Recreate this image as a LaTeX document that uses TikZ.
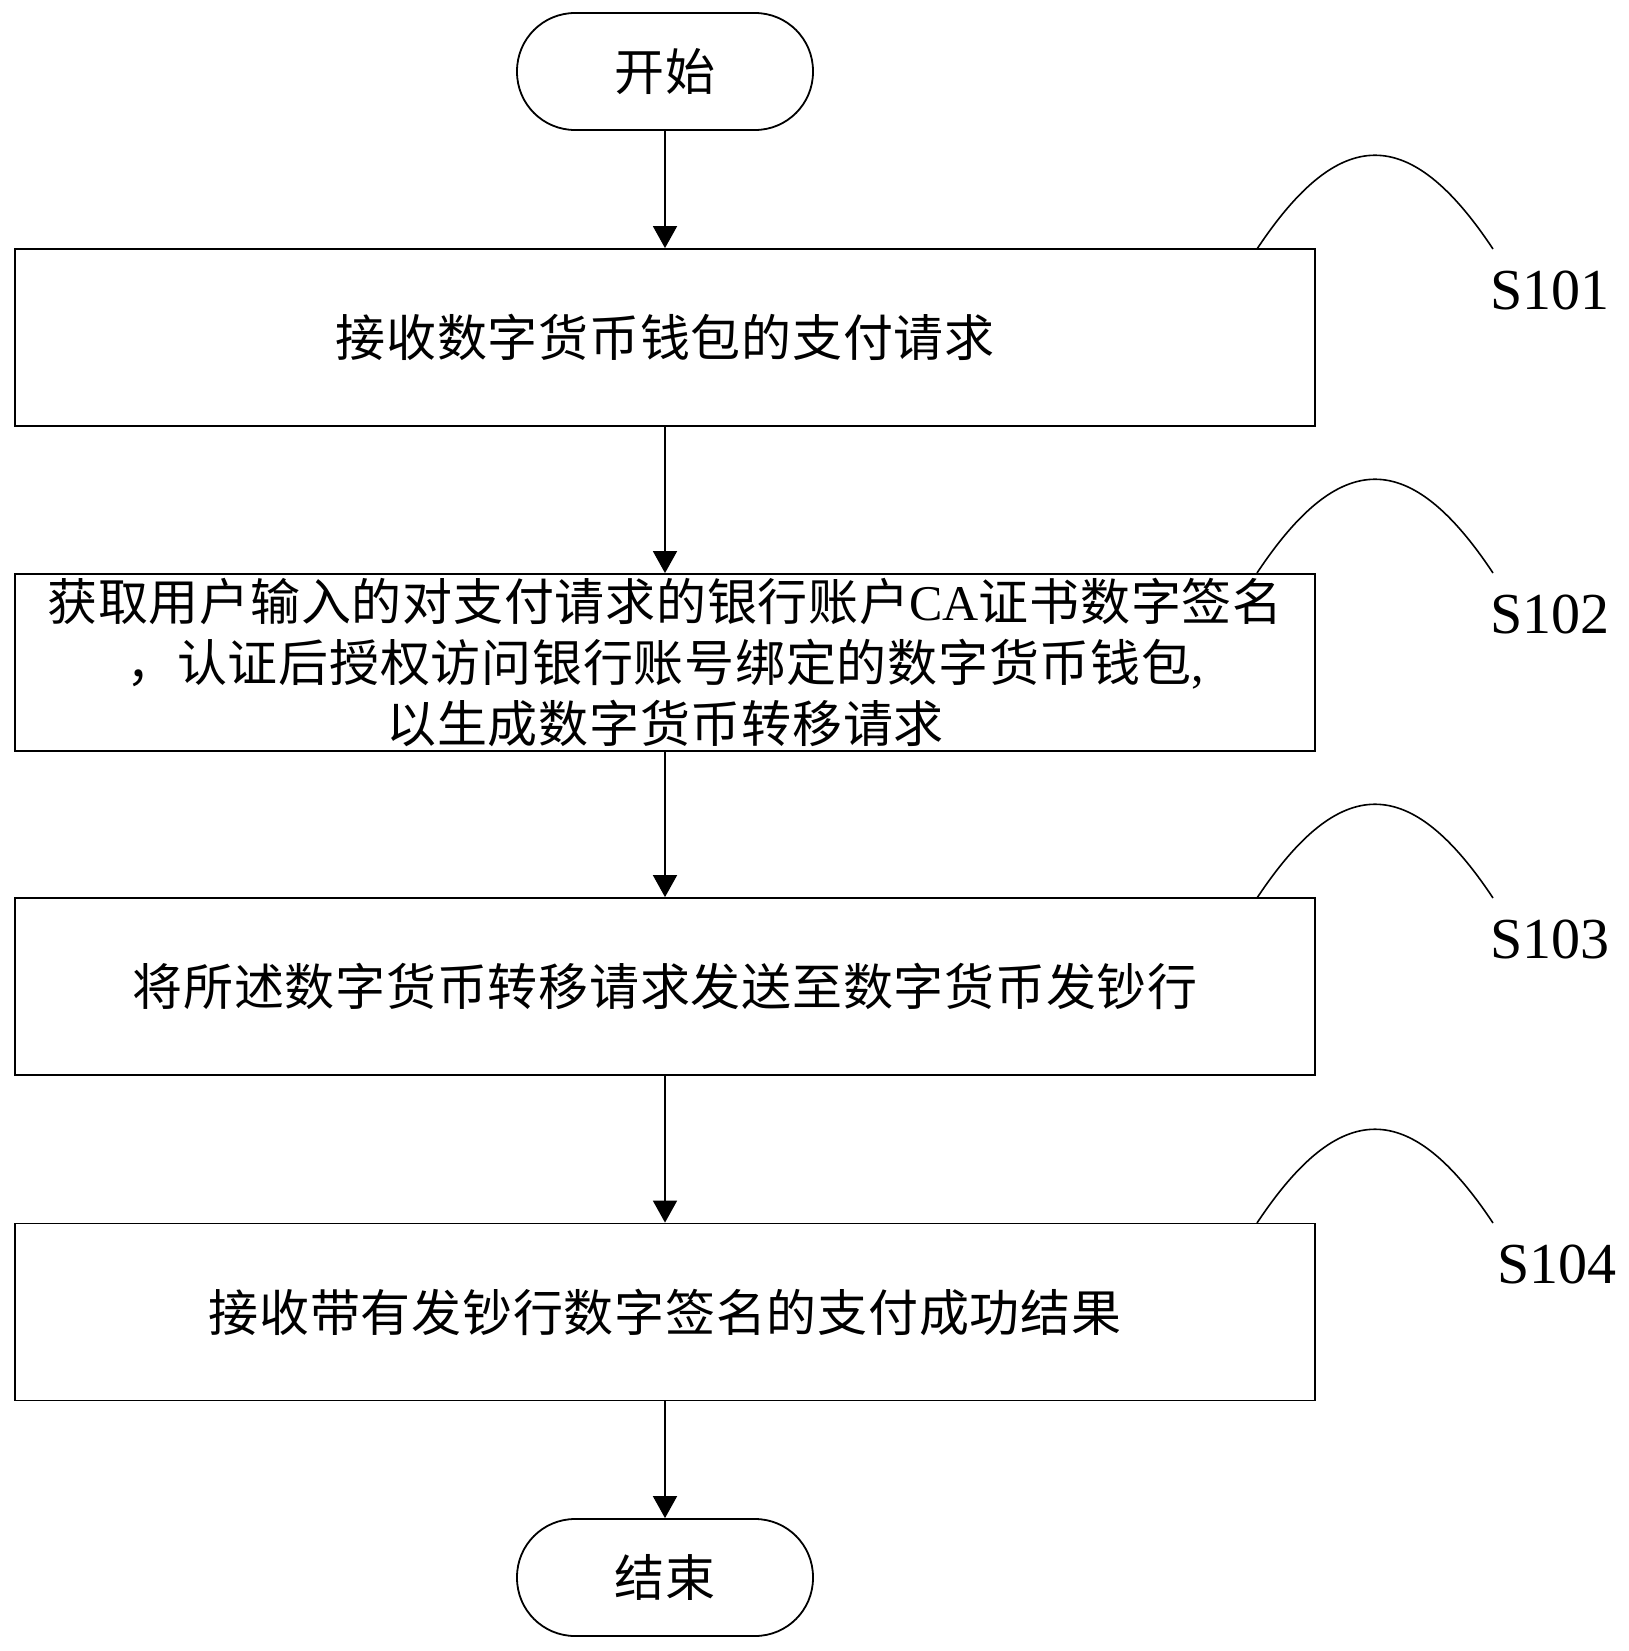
\documentclass[tikz,border=0pt]{standalone}
\usepackage{fontspec}
\setmainfont{Liberation Serif}
\newfontfamily\cjk[LetterSpace=1.5]{Noto Sans CJK SC}
\usetikzlibrary{arrows.meta,calc}
\begin{document}
\begin{tikzpicture}[x=1pt,y=-1pt,
  every node/.style={inner sep=0pt},
  ln/.style={line width=1.8pt, draw=black},
  term/.style={ln, rounded corners=58pt, minimum width=296pt, minimum height=117pt, font=\cjk\fontsize{50}{61}\selectfont},
  stepbox/.style={ln, minimum width=1300pt, minimum height=177pt, align=center, font=\cjk\fontsize{50}{61}\selectfont},
  arr/.style={line width=1.8pt, -{Triangle[length=22pt,width=24pt]}},
  lbl/.style={font=\fontsize{58}{60}\selectfont},
  lead/.style={line width=1.6pt}]
\useasboundingbox (0,0) rectangle (1629,1651);

\node[term] (start) at (665,71.5) {开始};
\node[stepbox] (b1) at (665,337.5) {接收数字货币钱包的支付请求};
\node[stepbox] (b2) at (665,662.5) {获取用户输入的对支付请求的银行账户{\rmfamily CA}证书数字签名\\，认证后授权访问银行账号绑定的数字货币钱包{\rmfamily ,}\\以生成数字货币转移请求};
\node[stepbox] (b3) at (665,986.5) {将所述数字货币转移请求发送至数字货币发钞行};
\node[stepbox] (b4) at (665,1312) {接收带有发钞行数字签名的支付成功结果};
\node[term] (end) at (665,1577.5) {结束};

\draw[arr] (start) -- (b1);
\draw[arr] (b1) -- (b2);
\draw[arr] (b2) -- (b3);
\draw[arr] (b3) -- (b4);
\draw[arr] (b4) -- (end);

\node[lbl] (s1) at (1550,290) {S101};
\node[lbl] (s2) at (1550,614) {S102};
\node[lbl] (s3) at (1550,939) {S103};
\node[lbl] (s4) at (1557,1264) {S104};

\foreach \i/\y in {1/249,2/573,3/898,4/1223}{
  \coordinate (c\i a) at (1257,\y);
  \coordinate (c\i b) at (1493,\y);
  \draw[lead] (c\i a) .. controls ($(c\i a)+(83,-125)$) and ($(c\i b)+(-83,-125)$) .. (c\i b);
}
\end{tikzpicture}
\end{document}
